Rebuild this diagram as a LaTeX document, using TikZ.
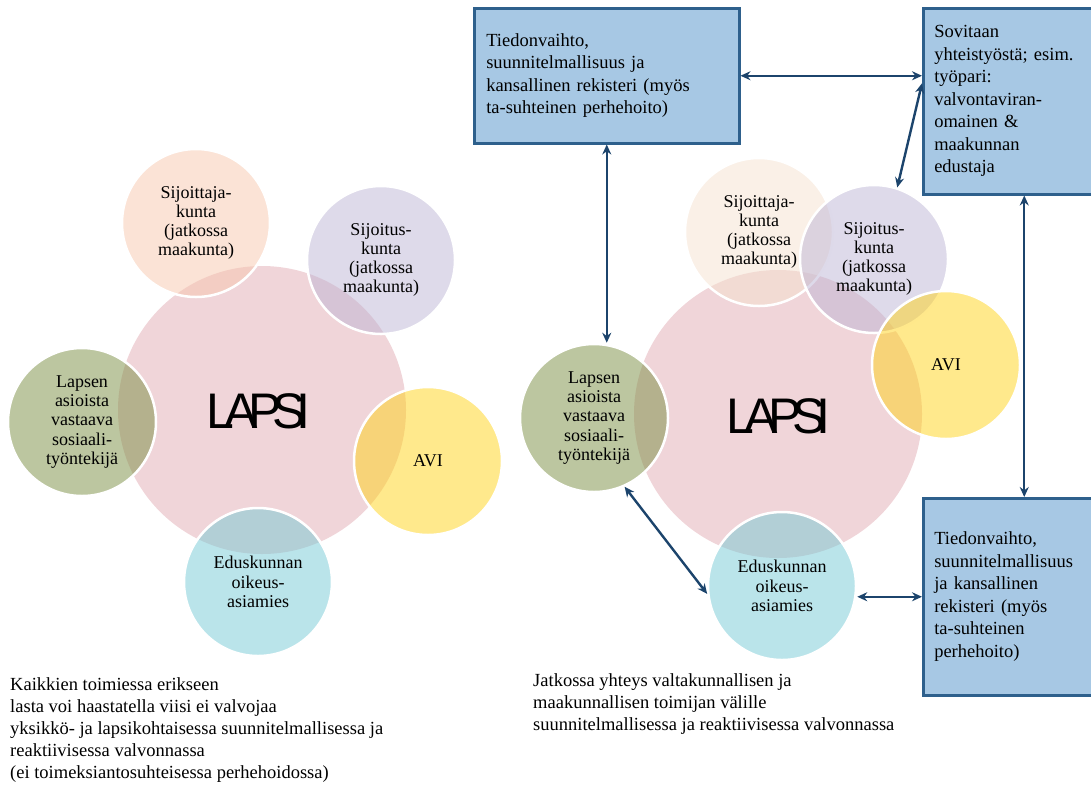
\documentclass[tikz,border=0pt]{standalone}
\usepackage{fontspec}
\setmainfont{Liberation Serif}
\setsansfont{Liberation Sans}
\usetikzlibrary{arrows.meta}

\definecolor{lapsipink}{RGB}{225,171,179}
\definecolor{peach}{RGB}{247,199,173}
\definecolor{peachpale}{RGB}{245,225,207}
\definecolor{lavender}{RGB}{189,181,213}
\definecolor{olive}{RGB}{121,141,65}
\definecolor{aviyellow}{RGB}{255,211,25}
\definecolor{lightcyan}{RGB}{117,201,213}
\definecolor{boxfill}{RGB}{167,200,228}
\definecolor{boxline}{RGB}{46,96,140}
\definecolor{arrowblue}{RGB}{28,68,108}

\tikzset{
  ball/.style={circle, minimum size=148pt, inner sep=0pt, fill opacity=0.5, text opacity=1,
    draw=white, line width=2.5pt, align=center, font=\fontsize{18}{19.2}\selectfont},
  bigball/.style={circle, minimum size=288pt, inner sep=0pt, fill=lapsipink, fill opacity=0.5},
  lapsi/.style={font=\fontsize{50}{50}\selectfont\sffamily, inner sep=0pt},
  infobox/.style={rectangle, draw=boxline, fill=boxfill, line width=2.5pt, anchor=north west,
    align=left, inner xsep=11pt, font=\fontsize{18.5}{22.5}\selectfont},
  note/.style={anchor=north west, align=left, inner sep=0pt, font=\fontsize{18.5}{22}\selectfont},
  link/.style={arrowblue, line width=2.4pt, {Stealth[length=10pt,width=9pt]}-{Stealth[length=10pt,width=9pt]}}
}
\newcommand{\lapsiword}{L\kern-9.5pt A\kern-9.5pt P\kern-9.5pt S\kern-9.5pt I}

\begin{document}
\begin{tikzpicture}[x=1pt,y=-1pt]
\useasboundingbox (0,0) rectangle (1091,785);
\clip (0,0) rectangle (1091,785);

% left cluster
\begin{scope}
\node[bigball] (bigL) at (262,410) {};
\node[ball, fill=peach] (sijL) at (196,223) {Sijoittaja-\\kunta\\(jatkossa\\maakunta)};
\node[ball, fill=lavender] (sijuL) at (381,260) {Sijoitus-\\kunta\\(jatkossa\\maakunta)};
\node[ball, fill=olive] (lapL) at (82,422) {Lapsen\\asioista\\vastaava\\sosiaali-\\työntekijä};
\node[ball, fill=aviyellow] (aviL) at (428,461) {AVI};
\node[ball, fill=lightcyan] (edL) at (258,582) {Eduskunnan\\oikeus-\\asiamies};
\node[lapsi] (lapsiL) at (258.5,411) {\lapsiword};
\end{scope}

% right cluster
\begin{scope}
\node[bigball] (bigR) at (778,414) {};
\node[ball, fill=peachpale] (sijR) at (759,232) {Sijoittaja-\\kunta\\(jatkossa\\maakunta)};
\node[ball, fill=lavender] (sijuR) at (874,259) {Sijoitus-\\kunta\\(jatkossa\\maakunta)};
\node[ball, fill=aviyellow] (aviR) at (946,365) {AVI};
\node[ball, fill=lightcyan] (edR) at (782,586) {Eduskunnan\\oikeus-\\asiamies};
\node[ball, fill=olive] (lapR) at (594,418) {Lapsen\\asioista\\vastaava\\sosiaali-\\työntekijä};
\node[lapsi] (lapsiR) at (778.5,416) {\lapsiword};
\end{scope}

% boxes
\node[infobox, text width=241pt, inner xsep=12pt, minimum width=265pt, minimum height=135pt] (info) at (473,7)
  {Tiedonvaihto,\\suunnitelmallisuus ja\\kansallinen rekisteri (myös\\ta-suhteinen perhehoito)};
\node[infobox, text width=180pt, minimum width=202pt, minimum height=186pt] (coop) at (922,7)
  {Sovitaan\\yhteistyöstä; esim.\\työpari:\\valvontaviran-\\omainen \&\\maakunnan\\edustaja};
\node[infobox, text width=180pt, minimum width=202pt, minimum height=197pt] (reg) at (922,497)
  {Tiedonvaihto,\\suunnitelmallisuus\\ja kansallinen\\rekisteri (myös\\ta-suhteinen\\perhehoito)};

\draw[link] (info.east) -- (info.east -| coop.west);
\draw[link] ([yshift=18pt]coop.west) -- (sijuR.72);
\draw[link] (info.south) -- (info.south |- lapR.north);
\draw[link] (coop.south) -- (reg.north);
\draw[link] (lapR.294) -- (edR.186);
\draw[link] (reg.west -| edR.east) -- (reg.west);

% notes
\node[note] (allnote) at (10,677) {Kaikkien toimiessa erikseen\\lasta voi haastatella viisi ei valvojaa\\yksikkö- ja lapsikohtaisessa suunnitelmallisessa ja\\reaktiivisessa valvonnassa\\(ei toimeksiantosuhteisessa perhehoidossa)};
\node[note] (futnote) at (533,673) {Jatkossa yhteys valtakunnallisen ja\\maakunnallisen toimijan välille\\suunnitelmallisessa ja reaktiivisessa valvonnassa};
\end{tikzpicture}
\end{document}
